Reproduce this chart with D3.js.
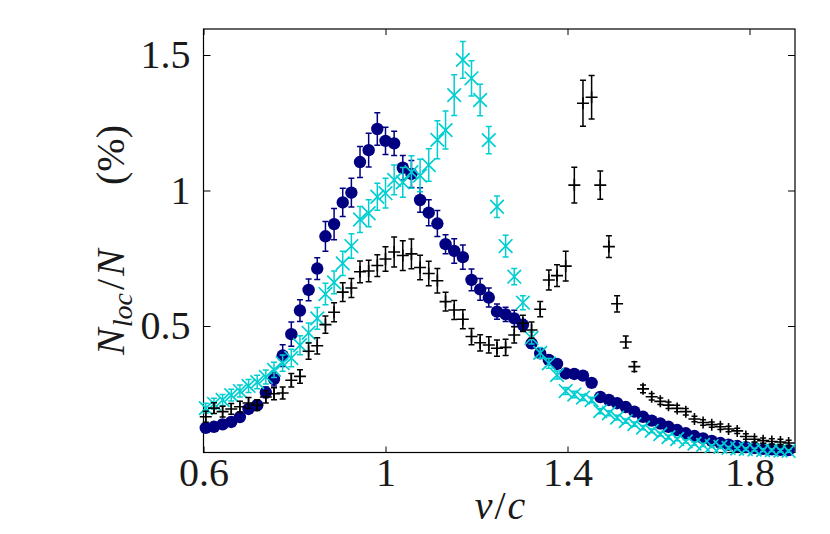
<!DOCTYPE html>
<html><head><meta charset="utf-8">
<script src="https://cdn.jsdelivr.net/npm/d3@7"></script>
<style>body{margin:0;background:#fff}svg{display:block}</style>
</head><body>
<svg id="chart" width="830" height="534"></svg>
<script>
const vOverC = [0.605,0.623,0.642,0.661,0.680,0.699,0.718,0.737,0.755,0.774,
 0.793,0.812,0.831,0.850,0.868,0.887,0.906,0.925,0.944,0.963,
 0.982,1.000,1.019,1.038,1.057,1.076,1.095,1.114,1.132,1.151,
 1.170,1.189,1.208,1.227,1.245,1.264,1.283,1.302,1.321,1.340,
 1.359,1.377,1.396,1.415,1.434,1.453,1.472,1.491,1.509,1.528,
 1.547,1.566,1.585,1.604,1.622,1.641,1.660,1.679,1.698,1.717,
 1.736,1.754,1.773,1.792,1.811,1.830,1.849,1.868,1.886];

const navyVals = [0.124,0.128,0.137,0.146,0.164,0.194,0.208,0.255,0.304,0.391,
 0.470,0.557,0.633,0.712,0.831,0.876,0.956,0.992,1.105,1.149,
 1.227,1.183,1.174,1.084,1.061,0.965,0.918,0.878,0.802,0.777,
 0.754,0.670,0.635,0.605,0.553,0.543,0.528,0.504,0.436,0.399,
 0.375,0.360,0.325,0.323,0.317,0.290,0.238,0.227,0.215,0.201,
 0.184,0.165,0.151,0.140,0.128,0.116,0.104,0.094,0.085,0.076,
 0.068,0.062,0.057,0.053,0.050,0.047,0.045,0.043,0.042];
const navyErr = [0.008,0.008,0.01,0.01,0.012,0.015,0.015,0.02,0.025,0.04,
 0.045,0.04,0.04,0.04,0.055,0.058,0.052,0.053,0.057,0.062,
 0.06,0.05,0.045,0.045,0.05,0.045,0.048,0.048,0.035,0.045,
 0.045,0.04,0.04,0.035,0.028,0.026,0.03,0.02,0.018,0.015,
 0.014,0.012,0.01,0.01,0.01,0.01,0.01,0.01,0.009,0.009,
 0.008,0.008,0.008,0.007,0.007,0.007,0.006,0.006,0.006,0.006,
 0.005,0.005,0.005,0.005,0.005,0.005,0.005,0.005,0.005];

const cyanVals = [0.197,0.213,0.227,0.245,0.260,0.279,0.293,0.312,0.338,0.363,
 0.382,0.429,0.475,0.528,0.618,0.661,0.731,0.795,0.893,0.916,
 0.977,0.990,1.039,1.030,1.068,1.055,1.094,1.187,1.223,1.352,
 1.482,1.414,1.334,1.186,0.940,0.795,0.682,0.586,0.456,0.401,
 0.362,0.319,0.260,0.247,0.236,0.227,0.186,0.178,0.162,0.149,
 0.138,0.125,0.113,0.101,0.090,0.083,0.074,0.066,0.061,0.057,
 0.054,0.050,0.048,0.046,0.044,0.042,0.042,0.040,0.039];
const cyanErr = [0.018,0.02,0.02,0.022,0.022,0.024,0.025,0.026,0.028,0.03,
 0.032,0.035,0.036,0.04,0.04,0.042,0.045,0.045,0.048,0.05,
 0.05,0.055,0.055,0.055,0.06,0.06,0.06,0.07,0.07,0.075,
 0.068,0.065,0.058,0.05,0.04,0.04,0.03,0.026,0.022,0.02,
 0.018,0.015,0.013,0.012,0.011,0.01,0.01,0.009,0.009,0.008,
 0.008,0.008,0.007,0.007,0.007,0.006,0.006,0.006,0.006,0.005,
 0.005,0.005,0.005,0.005,0.005,0.005,0.005,0.005,0.005];

const blackVals = [0.165,0.197,0.184,0.194,0.202,0.216,0.208,0.238,0.250,0.253,
 0.300,0.314,0.407,0.427,0.505,0.551,0.625,0.640,0.700,0.703,
 0.723,0.747,0.773,0.760,0.766,0.716,0.694,0.667,0.590,0.559,
 0.525,0.461,0.438,0.430,0.418,0.421,0.467,0.510,0.485,0.562,
 0.670,0.686,0.721,1.020,1.322,1.344,1.020,0.793,0.582,0.441,
 0.350,0.268,0.239,0.222,0.208,0.196,0.184,0.157,0.144,0.136,
 0.128,0.120,0.113,0.092,0.082,0.077,0.074,0.072,0.068];
const blackErr = [0.02,0.02,0.02,0.02,0.02,0.02,0.02,0.022,0.022,0.022,
 0.025,0.025,0.03,0.03,0.032,0.035,0.035,0.035,0.04,0.04,
 0.04,0.045,0.055,0.055,0.055,0.045,0.045,0.045,0.035,0.035,
 0.035,0.03,0.03,0.03,0.03,0.03,0.03,0.03,0.03,0.028,
 0.037,0.04,0.055,0.066,0.085,0.08,0.052,0.04,0.03,0.022,
 0.018,0.014,0.012,0.012,0.012,0.012,0.012,0.01,0.01,0.01,
 0.01,0.01,0.01,0.01,0.01,0.01,0.01,0.01,0.01];

const xTicks = [0.6, 1, 1.4, 1.8];
const xTickLabels = ["0.6", "1", "1.4", "1.8"];
const yTicks = [0.5, 1, 1.5];
const yTickLabels = ["0.5", "1", "1.5"];

const FONT = "'Liberation Serif', 'Times New Roman', serif";
const TXT = "#1a1a1a";
const svg = d3.select("#chart");
const L = 203.5, R = 795, T = 29, B = 452.5;
const x = d3.scaleLinear().domain([0.6, 1.9]).range([L, R]);
const y = d3.scaleLinear().domain([0.0332, 1.596]).range([B, T]);

function styleAxis(g) {
  g.select(".domain").remove();
  g.selectAll(".tick line").attr("stroke", "#000").attr("stroke-width", 1);
  g.selectAll(".tick text").attr("fill", TXT).attr("font-family", FONT).attr("font-size", 40);
}
const xl = d3.scaleOrdinal().domain(xTicks).range(xTickLabels);
const yl = d3.scaleOrdinal().domain(yTicks).range(yTickLabels);

svg.append("g").attr("transform", `translate(0,${B})`)
  .call(d3.axisBottom(x).tickValues(xTicks).tickSizeInner(-6).tickSizeOuter(0).tickPadding(5).tickFormat(d => xl(d)))
  .call(styleAxis);
svg.append("g").attr("transform", `translate(0,${T})`)
  .call(d3.axisTop(x).tickValues(xTicks).tickSizeInner(-6).tickSizeOuter(0).tickFormat(""))
  .call(styleAxis);
svg.append("g").attr("transform", `translate(${L},0)`)
  .call(d3.axisLeft(y).tickValues(yTicks).tickSizeInner(-7).tickSizeOuter(0).tickPadding(13).tickFormat(d => yl(d)))
  .call(styleAxis);
svg.append("g").attr("transform", `translate(${R},0)`)
  .call(d3.axisRight(y).tickValues(yTicks).tickSizeInner(-7).tickSizeOuter(0).tickFormat(""))
  .call(styleAxis);

svg.append("rect").attr("x", L).attr("y", T).attr("width", R - L).attr("height", B - T)
  .attr("fill", "none").attr("stroke", "#000").attr("stroke-width", 1.2);

const plot = svg.append("g");

function series(vals, errs, color, kind) {
  const data = vals.map((v, i) => ({x: vOverC[i], v: v, e: errs[i]}));
  const g = plot.append("g");
  const cw = 3;
  g.selectAll(".eb").data(data).join("path")
    .attr("d", d => {
      const xx = x(d.x), y1 = y(d.v - d.e), y2 = y(d.v + d.e);
      return `M${xx},${y1}V${y2}M${xx - cw},${y1}H${xx + cw}M${xx - cw},${y2}H${xx + cw}`;
    })
    .attr("fill", "none").attr("stroke", color).attr("stroke-width", 1.5);
  if (kind === "circle") {
    g.selectAll(".m").data(data).join("circle")
      .attr("cx", d => x(d.x)).attr("cy", d => y(d.v)).attr("r", 6.2).attr("fill", color);
  } else if (kind === "x") {
    const s = 6.8;
    g.selectAll(".m").data(data).join("path")
      .attr("transform", d => `translate(${x(d.x)},${y(d.v)})`)
      .attr("d", `M${-s},${-s}L${s},${s}M${-s},${s}L${s},${-s}`)
      .attr("fill", "none").attr("stroke", color).attr("stroke-width", 1.7);
  } else {
    const s = 6;
    g.selectAll(".m").data(data).join("path")
      .attr("transform", d => `translate(${x(d.x)},${y(d.v)})`)
      .attr("d", `M${-s},0H${s}M0,${-s}V${s}`)
      .attr("fill", "none").attr("stroke", color).attr("stroke-width", 1.6);
  }
}
series(navyVals, navyErr, "#000080", "circle");
series(cyanVals, cyanErr, "#00ced1", "x");
series(blackVals, blackErr, "#000000", "plus");

// x label
const xlab = svg.append("text").attr("x", 500).attr("y", 519).attr("text-anchor", "middle")
  .attr("font-family", FONT).attr("font-size", 40).attr("fill", TXT);
xlab.append("tspan").attr("font-style", "italic").text("v");
xlab.append("tspan").attr("dx", 2).text("/");
xlab.append("tspan").attr("dx", 2).attr("font-style", "italic").text("c");

// y label
const yg = svg.append("g").attr("transform", "translate(124,0) rotate(-90)");
const yt = yg.append("text").attr("x", -355).attr("y", 0).attr("text-anchor", "start")
  .attr("font-family", FONT).attr("font-size", 40).attr("fill", TXT);
yt.append("tspan").attr("font-style", "italic").text("N");
yt.append("tspan").attr("font-style", "italic").attr("font-size", 28).attr("dy", 8).attr("dx", 1).text("loc");
yt.append("tspan").attr("dy", -8).attr("dx", 3).text("/");
yt.append("tspan").attr("font-style", "italic").attr("dx", 3).text("N");
yg.append("text").attr("x", -125).attr("y", 0).attr("text-anchor", "end")
  .attr("font-family", FONT).attr("font-size", 40).attr("fill", TXT).text("(%)");
</script>
</body></html>
